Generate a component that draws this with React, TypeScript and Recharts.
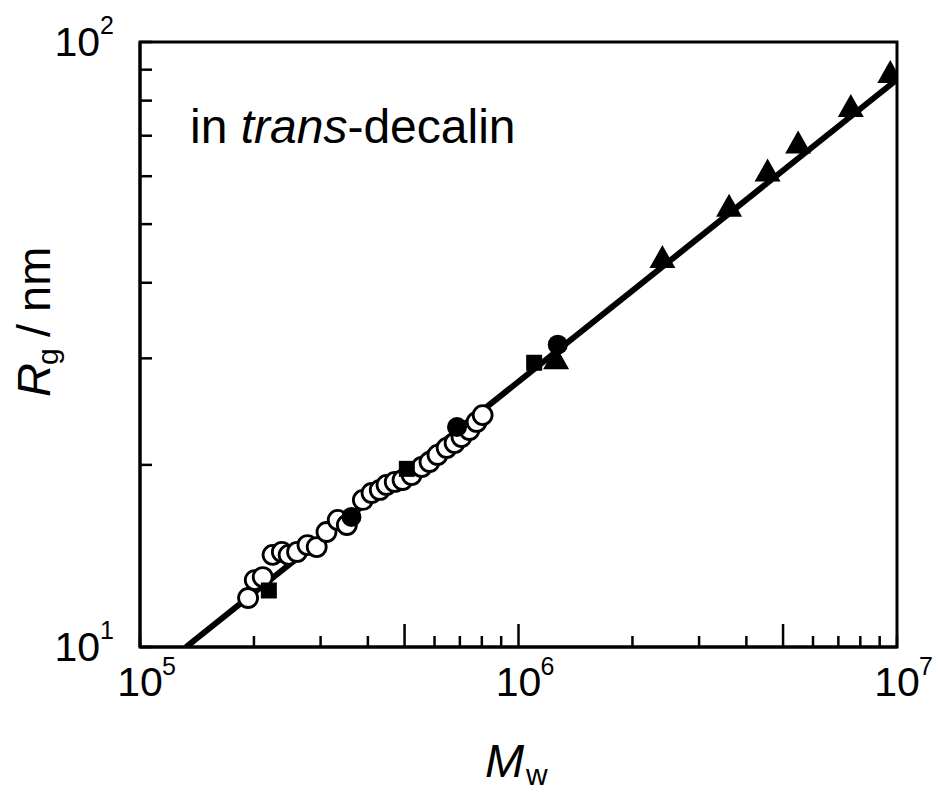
import React from 'react';
import { ScatterChart, Scatter, XAxis, YAxis, ReferenceArea } from 'recharts';

// ---- data ----
const openCircleMw = [
  1.93e5, 2.01e5, 2.11e5, 2.24e5, 2.37e5, 2.47e5, 2.6e5, 2.77e5, 2.93e5, 3.11e5,
  3.33e5, 3.52e5, 3.88e5, 4.09e5, 4.3e5, 4.48e5, 4.71e5, 4.94e5, 5.22e5, 5.55e5,
  5.82e5, 6.11e5, 6.46e5, 6.78e5, 7.07e5, 7.42e5, 7.75e5, 8.04e5,
];
const openCircleRg = [
  12.05, 12.9, 13.05, 14.2, 14.36, 14.2, 14.36, 14.74, 14.63, 15.49,
  16.22, 15.91, 17.5, 17.97, 18.18, 18.53, 18.74, 18.88, 19.24, 19.84,
  20.22, 20.77, 21.33, 21.73, 22.23, 22.84, 23.55, 24.17,
];
const filledCircleMw = [3.62e5, 6.88e5, 1.27e6];
const filledCircleRg = [16.4, 23.1, 31.6];
const squareMw = [2.19e5, 5.07e5, 1.1e6];
const squareRg = [12.4, 19.7, 29.5];
const triangleMw = [1.257e6, 2.4e6, 3.6e6, 4.55e6, 5.48e6, 7.55e6, 9.6e6];
const triangleRg = [30.0, 44.1, 53.6, 61.3, 68.2, 78.4, 89.2];
const fitMw = [1.323e5, 1e7];
const fitRg = [10, 86.7];

const xTicks = [
  1e5, 2e5, 3e5, 4e5, 5e5, 6e5, 7e5, 8e5, 9e5,
  1e6, 2e6, 3e6, 4e6, 5e6, 6e6, 7e6, 8e6, 9e6, 1e7,
];
const xLongTicks = [5e5, 1e6, 5e6];
const xLabelTicks = [1e5, 1e6, 1e7];
const xLabelExps = ['5', '6', '7'];
const yTicks = [10, 20, 30, 40, 50, 60, 70, 80, 90, 100];
const yLabelTicks = [10, 100];
const yLabelExps = ['1', '2'];

const toPoints = (xs: number[], ys: number[]) => xs.map((x, i) => ({ x, y: ys[i] }));

const openCircles = toPoints(openCircleMw, openCircleRg);
const filledCircles = toPoints(filledCircleMw, filledCircleRg);
const squares = toPoints(squareMw, squareRg);
const triangles = toPoints(triangleMw, triangleRg);
const fitLine = toPoints(fitMw, fitRg);

const FONT = '"Liberation Sans", Arial, sans-serif';

const XTick = (props: any) => {
  const { x, y, payload } = props;
  const v = payload.value;
  const len = xLongTicks.includes(v) ? 23 : 11;
  const li = xLabelTicks.indexOf(v);
  return (
    <g>
      <line x1={x} y1={y} x2={x} y2={y - len} stroke="#000" strokeWidth={2.5} />
      {li >= 0 && (
        <g fontFamily={FONT} fill="#000">
          <text x={x} y={y + 49} textAnchor="middle" fontSize={41}>10</text>
          <text x={x + 22} y={y + 28} textAnchor="start" fontSize={25}>{xLabelExps[li]}</text>
        </g>
      )}
    </g>
  );
};

const YTick = (props: any) => {
  const { x, y, payload } = props;
  const v = payload.value;
  const li = yLabelTicks.indexOf(v);
  return (
    <g>
      <line x1={x} y1={y} x2={x + 12} y2={y} stroke="#000" strokeWidth={2.5} />
      {li >= 0 && (
        <g fontFamily={FONT} fill="#000">
          <text x={x - 40} y={y + 14} textAnchor="end" fontSize={41}>10</text>
          <text x={x - 40} y={y - 8} textAnchor="start" fontSize={25}>{yLabelExps[li]}</text>
        </g>
      )}
    </g>
  );
};

const OpenCircle = (p: any) => (
  <circle cx={p.cx} cy={p.cy} r={9.5} fill="#fff" stroke="#000" strokeWidth={2.8} />
);
const FilledCircle = (p: any) => <circle cx={p.cx} cy={p.cy} r={10} fill="#000" />;
const Square = (p: any) => (
  <rect x={p.cx - 8} y={p.cy - 8} width={16} height={16} fill="#000" />
);
const Triangle = (p: any) => (
  <path
    d={`M${p.cx},${p.cy - 12} L${p.cx + 13},${p.cy + 11} L${p.cx - 13},${p.cy + 11} Z`}
    fill="#000"
  />
);
const NoShape = () => <g />;

export default function App() {
  return (
    <div style={{ width: 925, height: 784, fontFamily: FONT }}>
      <ScatterChart
        width={925}
        height={784}
        margin={{ top: 34, right: 36, bottom: 85, left: 72 }}
      >
        <XAxis
          type="number"
          dataKey="x"
          scale="log"
          domain={[1e5, 1e7]}
          ticks={xTicks}
          interval={0}
          allowDataOverflow
          height={60}
          tickLine={false}
          tickSize={0}
          tickMargin={0}
          axisLine={{ stroke: '#000', strokeWidth: 3 }}
          tick={<XTick />}
        />
        <YAxis
          type="number"
          dataKey="y"
          scale="log"
          domain={[10, 100]}
          ticks={yTicks}
          interval={0}
          allowDataOverflow
          width={60}
          tickLine={false}
          tickSize={0}
          tickMargin={0}
          axisLine={{ stroke: '#000', strokeWidth: 3 }}
          tick={<YTick />}
        />
        <ReferenceArea
          x1={1e5}
          x2={1e7}
          y1={10}
          y2={100}
          fill="none"
          fillOpacity={0}
          stroke="#000"
          strokeWidth={3}
        />
        <Scatter
          data={fitLine}
          line={{ stroke: '#000', strokeWidth: 6 }}
          shape={<NoShape />}
          isAnimationActive={false}
        />
        <Scatter data={openCircles} shape={<OpenCircle />} isAnimationActive={false} />
        <Scatter data={filledCircles} shape={<FilledCircle />} isAnimationActive={false} />
        <Scatter data={squares} shape={<Square />} isAnimationActive={false} />
        <Scatter data={triangles} shape={<Triangle />} isAnimationActive={false} />
        <text x={182} y={135} fontSize={48} fontFamily={FONT} fill="#000">
          in <tspan fontStyle="italic">trans</tspan>-decalin
        </text>
        <g fontFamily={FONT} fill="#000">
          <text x={477} y={769} fontSize={47} fontStyle="italic">M</text>
          <text x={518} y={777} fontSize={30}>w</text>
        </g>
        <g fontFamily={FONT} fill="#000" transform="translate(42, 389) rotate(-90)">
          <text x={0} y={0} fontSize={47} fontStyle="italic">R</text>
          <text x={32} y={8} fontSize={30}>g</text>
          <text x={60} y={0} fontSize={47}>/</text>
          <text x={85} y={0} fontSize={47}>nm</text>
        </g>
      </ScatterChart>
    </div>
  );
}
